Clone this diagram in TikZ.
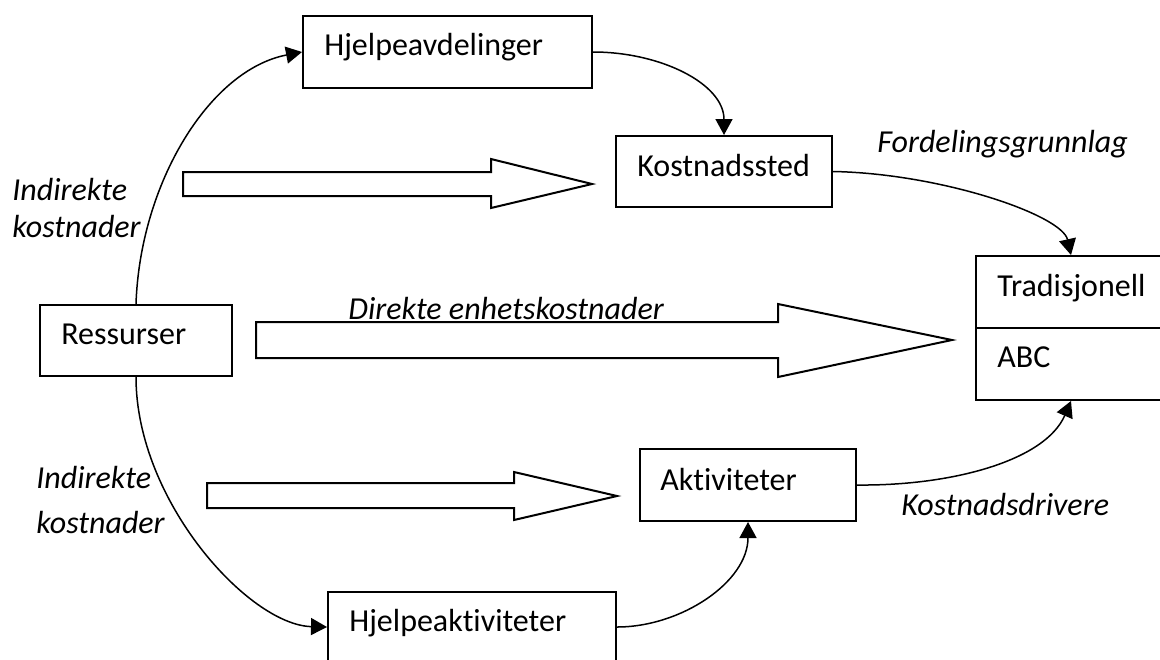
\documentclass[tikz,border=0pt]{standalone}
\usepackage{fontspec}
\setmainfont{Carlito}[Ligatures=NoCommon]
\usetikzlibrary{arrows.meta,calc}
\begin{document}
\begin{tikzpicture}[x=0.5pt,y=-0.5pt,
  box/.style={draw,line width=1pt,inner sep=0pt},
  lbl/.style={inner sep=0pt,anchor=base west,font=\fontsize{16}{19}\selectfont},
  ilbl/.style={inner sep=0pt,anchor=base west,font=\fontsize{16}{19}\selectfont\itshape},
  conn/.style={line width=0.75pt,-{Triangle[length=8pt,width=8.5pt]}},
  blk/.style={draw,line width=1pt,fill=white,line join=miter}]
\useasboundingbox (0,0) rectangle (1160,659);
\fill[white] (0,0) rectangle (1160,659);
\clip (0,0) rectangle (1160,659);

% boxes
\node[box,minimum width=144.5pt,minimum height=36pt] (hja) at (447.5,52) {};
\node[box,minimum width=108pt,minimum height=35.5pt] (kos) at (724,171.5) {};
\node[box,minimum width=96pt,minimum height=35.5pt] (res) at (136,340.5) {};
\node[box,minimum width=95pt,minimum height=36pt] (trad) at (1071,292) {};
\node[box,minimum width=95pt,minimum height=36pt] (abc) at (1071,364) {};
\node[box,minimum width=108pt,minimum height=36pt] (akt) at (748,485) {};
\node[box,minimum width=144pt,minimum height=35pt] (hak) at (472,627) {};

% box texts
\node[lbl] (thja) at ($(hja.north west)+(22,40)$) {Hjelpeavdelinger};
\node[lbl] (tkos) at ($(kos.north west)+(22,41)$) {Kostnadssted};
\node[lbl] (tres) at ($(res.north west)+(22,40)$) {Ressurser};
\node[lbl] (ttrad) at ($(trad.north west)+(22,41)$) {Tradisjonell};
\node[lbl] (tabc) at ($(abc.north west)+(22,40)$) {ABC};
\node[lbl] (takt) at ($(akt.north west)+(21,42)$) {Aktiviteter};
\node[lbl] (thak) at ($(hak.north west)+(22,40)$) {Hjelpeaktiviteter};

% block arrows
\draw[blk] (183,172) -- (491,172) -- (491,159) -- (592,184) -- (491,208) -- (491,196) -- (183,196) -- cycle;
\draw[blk] (256,322) -- (778,322) -- (778,304) -- (952,340) -- (778,377) -- (778,358) -- (256,358) -- cycle;
\draw[blk] (207,483) -- (514,483) -- (514,472) -- (617,496) -- (514,520) -- (514,508) -- (207,508) -- cycle;

% labels
\node[ilbl] (fg) at (877,152) {Fordelingsgrunnlag};
\node[ilbl] (ik1) at (12,200) {Indirekte};
\node[ilbl] (ik2) at (12,237) {kostnader};
\node[ilbl] (ik3) at (36,488) {Indirekte};
\node[ilbl] (ik4) at (36,533) {kostnader};
\node[ilbl] (dek) at (348,319) {Direkte enhetskostnader};
\node[ilbl] (kd) at (901,515) {Kostnadsdrivere};

% connectors
\draw[conn] (res.north) .. controls +(4,-120) and +(-93,18) .. (hja.west);
\draw[conn] (hja.east) .. controls +(68,0) and +(0,-51) .. (kos.north);
\draw[conn] (kos.east) .. controls +(108,2) and +(-9,-40) .. (trad.north);
\draw[conn] (res.south) .. controls +(0,124) and +(-78,-2) .. (hak.west);
\draw[conn] (hak.east) .. controls +(64,0) and +(0,60) .. (akt.south);
\draw[conn] (akt.east) .. controls +(94,1) and +(-26,60) .. (abc.south);
\end{tikzpicture}
\end{document}
